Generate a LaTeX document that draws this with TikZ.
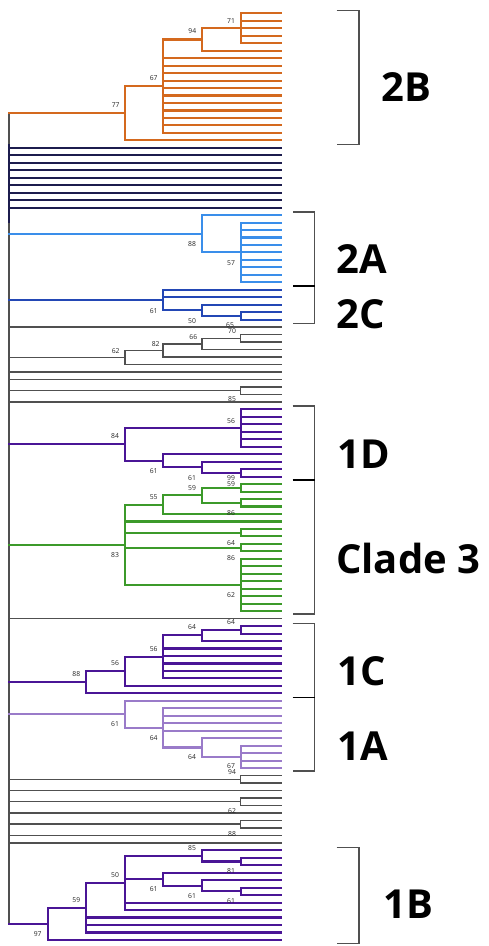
\documentclass[tikz,border=0pt]{standalone}
\usepackage{fontspec}
\setmainfont{Open Sans}
\definecolor{cOrange}{HTML}{D4691E}
\definecolor{cNavy}{HTML}{1C1C4E}
\definecolor{cSky}{HTML}{3A8EEA}
\definecolor{cBlue}{HTML}{2347B5}
\definecolor{cPurple}{HTML}{4A1596}
\definecolor{cGreen}{HTML}{3C9A2A}
\definecolor{cLilac}{HTML}{9A7BC9}
\definecolor{cGrey}{HTML}{505050}
\definecolor{cLab}{HTML}{262626}
% leaf index -> vertical position
\newcommand\Y[1]{13.3+7.473*(#1)}
% horizontal branch from x #1 to x #2 at leaf position #3
\newcommand\tbr[3]{\draw (#1,{\Y{#3}}) -- (#2,{\Y{#3}});}
% vertical bar at x #1 between leaf positions #2 and #3
\newcommand\tvr[3]{\draw (#1,{\Y{#2}}) -- (#1,{\Y{#3}});}
% terminal branch from x #1 to the tips
\newcommand\tleaf[2]{\tbr{#1}{281}{#2}}
\newcommand\tleaves[3]{\foreach \k in {#2,...,#3}{\tleaf{#1}{\k}}}
% bootstrap value
\newcommand\bs[4]{\node[bslab] (#1) at (#2,#3) {#4};}
\begin{document}
\begin{tikzpicture}[x=1pt,y=-1pt,
  tree/.style={line width=2.1pt,line cap=rect},
  greyline/.style={tree,draw=cGrey,line width=1.5pt},
  bslab/.style={font=\fontsize{6.8}{6.8}\selectfont,text=cLab,inner sep=0pt},
  cladelab/.style={font=\fontsize{40}{40}\selectfont\bfseries,anchor=base west,inner sep=0pt},
  bracket/.style={draw=cGrey,line width=1.3pt}]
\useasboundingbox (0,0) rectangle (489,946);
\fill[white] (0,0) rectangle (489,946);

% root
\begin{scope}[greyline]
\tvr{9}{13.375}{121.84}
\end{scope}

% clade 2B
\begin{scope}[tree,draw=cOrange]
\tvr{240.7}{0}{4} \tleaves{240.7}{0}{4}
\tvr{202}{2}{5} \tbr{202}{240.7}{2} \tleaf{202}{5}
\tvr{163}{3.5}{16} \tbr{163}{202}{3.5} \tleaves{163}{6}{16}
\tvr{125}{9.75}{17} \tbr{125}{163}{9.75} \tleaf{125}{17}
\tbr{9}{125}{13.375}
\end{scope}

% unresolved dark lineages
\begin{scope}[tree,draw=cNavy]
\tleaves{9}{18}{26}
\draw[line width=2.6pt] (9,145) -- (9,222);
\end{scope}

% clade 2A
\begin{scope}[tree,draw=cSky]
\tvr{240.7}{28}{36} \tleaves{240.7}{28}{36}
\tvr{202}{27}{32} \tleaf{202}{27} \tbr{202}{240.7}{32}
\tbr{9}{202}{29.5}
\end{scope}

% clade 2C
\begin{scope}[tree,draw=cBlue]
\tvr{240.7}{40}{41} \tleaves{240.7}{40}{41}
\tvr{202}{39}{40.5} \tleaf{202}{39} \tbr{202}{240.7}{40.5}
\tvr{163}{37}{39.75} \tleaves{163}{37}{38} \tbr{163}{202}{39.75}
\tbr{9}{163}{38.375}
\end{scope}

% unassigned lineages
\begin{scope}[greyline]
\tleaf{9}{42}
\tvr{240.7}{43}{44} \tleaves{240.7}{43}{44}
\tvr{202}{43.5}{45} \tbr{202}{240.7}{43.5} \tleaf{202}{45}
\tvr{163}{44.25}{46} \tbr{163}{202}{44.25} \tleaf{163}{46}
\tvr{125}{45.125}{47} \tbr{125}{163}{45.125} \tleaf{125}{47}
\tbr{9}{125}{46.06}
\tleaves{9}{48}{49}
\tvr{240.7}{50}{51} \tleaves{240.7}{50}{51} \tbr{9}{240.7}{50.5}
\tleaf{9}{52}
\end{scope}

% clade 1D
\begin{scope}[tree,draw=cPurple]
\tvr{240.7}{53}{58} \tleaves{240.7}{53}{58}
\tvr{240.7}{61}{62} \tleaves{240.7}{61}{62}
\tvr{202}{60}{61.5} \tleaf{202}{60} \tbr{202}{240.7}{61.5}
\tvr{163}{59}{60.75} \tleaf{163}{59} \tbr{163}{202}{60.75}
\tvr{125}{55.5}{59.875} \tbr{125}{240.7}{55.5} \tbr{125}{163}{59.875}
\tbr{9}{125}{57.69}
\end{scope}

% clade 3
\begin{scope}[tree,draw=cGreen]
\tvr{240.7}{63}{64} \tleaves{240.7}{63}{64}
\tvr{240.7}{65}{66} \tleaves{240.7}{65}{66}
\tvr{202}{63.5}{65.5} \tbr{202}{240.7}{63.5} \tbr{202}{240.7}{65.5}
\tvr{163}{64.5}{67} \tbr{163}{202}{64.5} \tleaf{163}{67}
\tleaf{125}{68}
\tvr{240.7}{69}{70} \tleaves{240.7}{69}{70} \tbr{125}{240.7}{69.5}
\tvr{240.7}{71}{72} \tleaves{240.7}{71}{72} \tbr{125}{240.7}{71.5}
\tvr{240.7}{73}{80} \tleaves{240.7}{73}{80} \tbr{125}{240.7}{76.5}
\tvr{125}{65.75}{76.5} \tbr{125}{163}{65.75}
\tbr{9}{125}{71.125}
\end{scope}

\begin{scope}[greyline]
\tleaf{9}{81}
\end{scope}

% clade 1C
\begin{scope}[tree,draw=cPurple]
\tvr{240.7}{82}{83} \tleaves{240.7}{82}{83}
\tvr{202}{82.5}{84} \tbr{202}{240.7}{82.5} \tleaf{202}{84}
\tvr{163}{83.25}{89} \tbr{163}{202}{83.25} \tleaves{163}{85}{89}
\tvr{125}{86.125}{90} \tbr{125}{163}{86.125} \tleaf{125}{90}
\tvr{86}{88.06}{91} \tbr{86}{125}{88.06} \tleaf{86}{91}
\tbr{9}{86}{89.53}
\end{scope}

% clade 1A
\begin{scope}[tree,draw=cLilac]
\tvr{240.7}{98}{101} \tleaves{240.7}{98}{101}
\tvr{202}{97}{99.5} \tleaf{202}{97} \tbr{202}{240.7}{99.5}
\tvr{163}{93}{98.25} \tleaves{163}{93}{96} \tbr{163}{202}{98.25}
\tvr{125}{92}{95.625} \tleaf{125}{92} \tbr{125}{163}{95.625}
\tbr{9}{125}{93.81}
\end{scope}

% unassigned lineages
\begin{scope}[greyline]
\tvr{240.7}{102}{103} \tleaves{240.7}{102}{103} \tbr{9}{240.7}{102.5}
\tleaf{9}{104}
\tvr{240.7}{105}{106} \tleaves{240.7}{105}{106} \tbr{9}{240.7}{105.5}
\tleaf{9}{107}
\tvr{240.7}{108}{109} \tleaves{240.7}{108}{109} \tbr{9}{240.7}{108.5}
\tleaves{9}{110}{111}
\end{scope}

% clade 1B
\begin{scope}[tree,draw=cPurple]
\tvr{240.7}{113}{114} \tleaves{240.7}{113}{114}
\tvr{202}{112}{113.5} \tleaf{202}{112} \tbr{202}{240.7}{113.5}
\tvr{240.7}{117}{118} \tleaves{240.7}{117}{118}
\tvr{202}{116}{117.5} \tleaf{202}{116} \tbr{202}{240.7}{117.5}
\tvr{163}{115}{116.75} \tleaf{163}{115} \tbr{163}{202}{116.75}
\tvr{125}{112.75}{120} \tbr{125}{202}{112.75} \tbr{125}{163}{115.875} \tleaves{125}{119}{120}
\tvr{86}{116.375}{123} \tbr{86}{125}{116.375} \tleaves{86}{121}{123}
\tvr{47.7}{119.69}{124} \tbr{47.7}{86}{119.69} \tleaf{47.7}{124}
\tbr{9}{47.7}{121.84}
\end{scope}

% bootstrap support values
\bs{o71}{231}{20.7}{71} \bs{o94}{192.3}{31.3}{94} \bs{o67}{153.7}{78.3}{67} \bs{o77}{115.7}{104.7}{77}
\bs{b88}{192}{244}{88} \bs{b57}{231}{263}{57}
\bs{c61}{153.7}{311}{61} \bs{c50}{192}{321}{50}
\bs{g65}{230}{325.5}{65} \bs{g70}{232}{331}{70} \bs{g66}{193.3}{337}{66} \bs{g82}{155.7}{344.3}{82}
\bs{g62}{115.7}{351}{62} \bs{g85}{232}{399}{85}
\bs{d56}{231}{420.7}{56} \bs{d84}{115}{436}{84} \bs{d61a}{153.7}{471}{61} \bs{d61b}{192}{478.3}{61}
\bs{d99}{231}{477.8}{99} \bs{d59}{231}{483.8}{59}
\bs{e59}{192}{487.7}{59} \bs{e55}{153.7}{497}{55} \bs{e86a}{231}{513.3}{86} \bs{e64}{231}{542.7}{64}
\bs{e86b}{231}{557.7}{86} \bs{e62}{231}{595}{62} \bs{e83}{115}{555}{83}
\bs{f64a}{231}{621.7}{64} \bs{f64b}{192}{626.7}{64} \bs{f56b}{153.7}{649}{56} \bs{f56a}{115}{663.3}{56}
\bs{f88}{76.3}{674.3}{88}
\bs{h61}{115}{724.3}{61} \bs{h64b}{153.7}{737.7}{64} \bs{h64c}{192}{757}{64} \bs{h67}{231}{765.7}{67}
\bs{h94}{232}{771.7}{94}
\bs{i62}{232}{811}{62} \bs{i88}{232}{834}{88}
\bs{j85}{192}{848.3}{85} \bs{j81}{231}{871}{81} \bs{j50}{115}{875.3}{50} \bs{j61b}{153.7}{889.3}{61}
\bs{j61c}{192}{896}{61} \bs{j61d}{231}{901.3}{61} \bs{j59}{76.3}{900}{59} \bs{j97}{37.7}{934}{97}

% clade brackets
\draw[bracket] (336.7,10.3) -- (359,10.3) -- (359,144.3) -- (336.7,144.3);
\draw[bracket] (293.3,212) -- (314.7,212) -- (314.7,323.3) -- (293.3,323.3);
\draw[bracket,draw=black] (293.3,286) -- (314.7,286);
\draw[bracket] (292.7,406) -- (314.7,406) -- (314.7,614) -- (292.7,614);
\draw[bracket,draw=black] (292.7,480) -- (314.7,480);
\draw[bracket] (292.7,623.3) -- (314.7,623.3) -- (314.7,771) -- (292.7,771);
\draw[bracket,draw=black] (292.7,697.3) -- (314.7,697.3);
\draw[bracket] (336.7,847.3) -- (359,847.3) -- (359,943.3) -- (336.7,943.3);

% clade names
\node[cladelab] (L2B) at (381,101.7) {2B};
\node[cladelab] (L2A) at (336,273.3) {2A};
\node[cladelab] (L2C) at (336,328.3) {2C};
\node[cladelab] (L1D) at (337.5,468.3) {1D};
\node[cladelab] (L3) at (336,573.3) {Clade 3};
\node[cladelab] (L1C) at (337.5,685) {1C};
\node[cladelab] (L1A) at (337.5,760) {1A};
\node[cladelab] (L1B) at (383,918.3) {1B};
\end{tikzpicture}
\end{document}
